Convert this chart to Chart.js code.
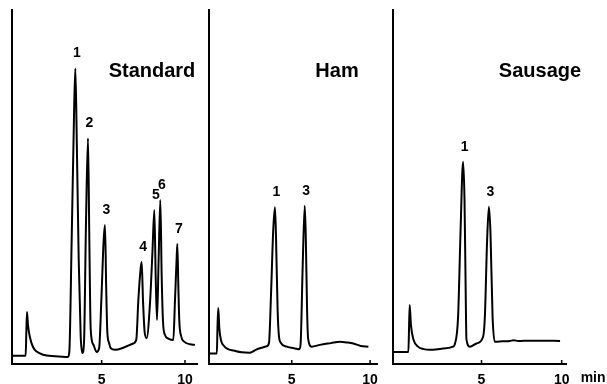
<!DOCTYPE html>
<html><head><meta charset="utf-8">
<script src="https://cdn.jsdelivr.net/npm/chart.js@4/dist/chart.umd.min.js"></script>
<style>
html,body{margin:0;padding:0;background:#fff;}
#wrap{position:relative;width:607px;height:384px;overflow:hidden;background:#fff;}
.pane{position:absolute;top:0;}
</style></head><body>
<div id="wrap">
<div class="pane" style="left:0px"><canvas id="c1" width="203" height="384"></canvas></div>
<div class="pane" style="left:203px"><canvas id="c2" width="186" height="384"></canvas></div>
<div class="pane" style="left:389px"><canvas id="c3" width="218" height="384"></canvas></div>
</div>
<script>
// ---- data (retention time in min, detector signal in arbitrary units) ----
const tickValues = [5, 10];
const titles = ["Standard", "Ham", "Sausage"];
const unitLabel = "min";

const stdTime   = [-0.38,0.44,0.48,0.52,0.58,0.7,0.88,1.1,1.48,2.2,2.98,3.06,3.2,3.34,3.42,3.5,3.62,3.74,3.84,3.94,4.06,4.18,4.26,4.34,4.5,4.7,4.85,4.98,5.12,5.2,5.27,5.34,5.44,5.54,5.8,6.3,6.9,7.08,7.2,7.34,7.4,7.48,7.58,7.7,7.9,8.05,8.16,8.24,8.32,8.42,8.52,8.6,8.68,8.8,9.0,9.3,9.4,9.5,9.54,9.6,9.66,9.76,9.95,10.3,10.6];
const stdSignal = [2.3,2.3,9,14.7,11,7.5,4.8,3.5,2.6,2.2,2.0,3.5,35,70,83.5,65,30,8,3.1,6,40,63.8,35,10,5.5,3.4,4.5,18,35,39.3,22,9,6,4.5,4.0,4.6,5.8,7,18,27,28.8,18,9,7.3,17.2,32,43.5,25,12.4,30,46.3,25,12,8.2,7.2,6.8,18.1,30,33.9,22,12,8,6.3,5.6,5.4];
const stdPeakIds   = ["1","2","3","4","5","6","7"];
const stdPeakTimes = [3.42,4.18,5.2,7.4,8.16,8.52,9.54];

const hamTime   = [-0.28,0.22,0.26,0.31,0.38,0.5,0.7,0.9,1.3,1.8,2.34,2.7,3.1,3.4,3.55,3.68,3.82,3.93,4.0,4.1,4.18,4.3,4.68,5.2,5.5,5.57,5.7,5.83,5.9,5.98,6.05,6.27,6.8,7.5,8.08,8.5,8.93,9.4,9.89];
const hamSignal = [3.0,3.0,10,15.8,10,6.5,5,4.3,3.8,3.3,3.2,4.0,4.6,5.0,6.0,20,38,44.3,35,15,8,6,4.9,4.4,4.2,6,28,44.7,35,15,7,4.9,5.4,5.9,6.3,6.1,5.8,5.1,4.9];
const hamPeakIds   = ["1","3"];
const hamPeakTimes = [3.93,5.83];

const sausTime   = [-0.5,0.44,0.48,0.52,0.6,0.75,1.04,1.4,1.77,2.5,3.23,3.33,3.54,3.69,3.85,3.94,4.02,4.06,4.27,4.69,5.1,5.21,5.35,5.46,5.56,5.69,5.83,6.3,6.77,7.0,7.3,8.0,8.64,9.9];
const sausSignal = [3.4,3.4,10,16.7,11,7,4.9,4.2,4.0,4.3,4.9,5.5,13.4,37,57.1,46.3,18.1,7,4.9,5.8,7.7,13.4,35,44.4,37,13.4,6.3,6.4,6.5,6.7,6.5,6.6,6.6,6.5];
const sausPeakIds   = ["1","3"];
const sausPeakTimes = [3.85,5.46];

// ---- drawing ----
const FONT = '"Liberation Sans", Arial, Helvetica, sans-serif';

const annot = {
  id: 'annot',
  afterDraw(chart, args, o) {
    const ctx = chart.ctx, xs = chart.scales.x, ys = chart.scales.y;
    ctx.save();
    ctx.strokeStyle = '#000';
    ctx.lineWidth = 1.5;
    xs.ticks.forEach(t => {
      const px = xs.getPixelForValue(t.value);
      ctx.beginPath(); ctx.moveTo(px, ys.bottom); ctx.lineTo(px, ys.bottom - 4); ctx.stroke();
    });
    ctx.fillStyle = '#000';
    ctx.textAlign = 'center';
    ctx.textBaseline = 'middle';
    ctx.font = 'bold 14px ' + FONT;
    const pts = chart.data.datasets[0].data;
    o.ids.forEach((id, i) => {
      let best = null;
      pts.forEach(p => { if (Math.abs(p.x - o.times[i]) < 0.12 && (!best || p.y > best.y)) best = p; });
      if (!best) return;
      ctx.fillText(id, xs.getPixelForValue(best.x) + 1.5, ys.getPixelForValue(best.y) - 15);
    });
    ctx.font = 'bold 20px ' + FONT;
    ctx.textBaseline = 'alphabetic';
    ctx.fillText(o.title, o.titleX, o.titleY);
    if (o.unit) {
      ctx.font = 'bold 14px ' + FONT;
      ctx.textAlign = 'left';
      ctx.textBaseline = 'middle';
      const last = tickValues[tickValues.length - 1];
      ctx.fillText(o.unit, xs.getPixelForValue(last) + 19, 378);
    }
    ctx.restore();
  }
};

function makeChart(id, times, signal, xmin, xmax, pad, peakIds, peakTimes, title, titleX, unit) {
  const data = times.map((t, i) => ({ x: t, y: signal[i] }));
  return new Chart(document.getElementById(id), {
    type: 'line',
    data: { datasets: [{ data, borderColor: '#000', borderWidth: 2, pointRadius: 0,
      cubicInterpolationMode: 'monotone', fill: false }] },
    plugins: [annot],
    options: {
      responsive: false, animation: false, events: [],
      layout: { padding: pad },
      plugins: {
        legend: { display: false }, tooltip: { enabled: false },
        annot: { ids: peakIds, times: peakTimes, title, titleX, titleY: 77, unit }
      },
      scales: {
        x: {
          type: 'linear', min: xmin, max: xmax,
          afterBuildTicks: s => { s.ticks = tickValues.map(v => ({ value: v })); },
          afterFit: s => { s.height = 20; },
          grid: { display: false, drawTicks: false },
          border: { display: true, color: '#000', width: 2 },
          ticks: { color: '#000', font: { family: FONT, size: 14, weight: 'bold' }, padding: 8,
            maxRotation: 0, autoSkip: false, callback: v => String(v) }
        },
        y: {
          min: 0, max: 100,
          afterFit: s => { s.width = 0; },
          grid: { display: false, drawTicks: false },
          border: { display: true, color: '#000', width: 2 },
          ticks: { display: false }
        }
      }
    }
  });
}

makeChart('c1', stdTime, stdSignal, -0.38, 10.72, { left: 12, right: 6, top: 10, bottom: 0 },
  stdPeakIds, stdPeakTimes, titles[0], 152, null);
makeChart('c2', hamTime, hamSignal, -0.28, 10.44, { left: 6, right: 12, top: 10, bottom: 0 },
  hamPeakIds, hamPeakTimes, titles[1], 134, null);
makeChart('c3', sausTime, sausSignal, -0.52, 10.27, { left: 4, right: 41, top: 10, bottom: 0 },
  sausPeakIds, sausPeakTimes, titles[2], 151, unitLabel);
</script>
</body></html>
